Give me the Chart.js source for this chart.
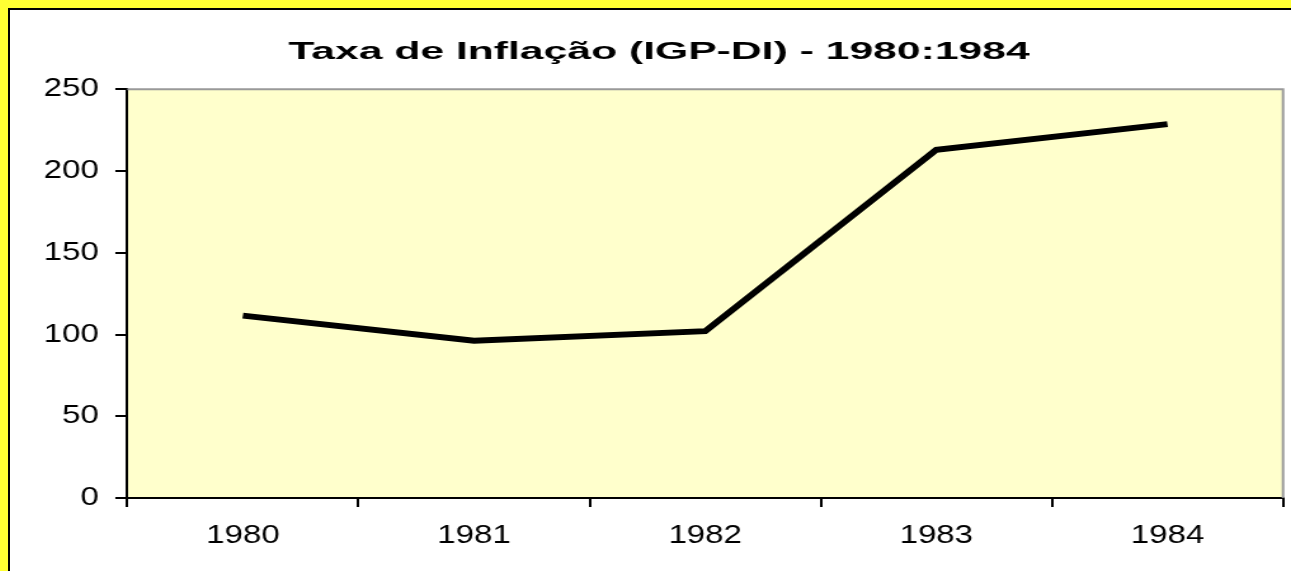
<!DOCTYPE html>
<html><head><meta charset="utf-8">
<script src="https://cdn.jsdelivr.net/npm/chart.js@4/dist/chart.umd.min.js"></script>
<style>
html,body{margin:0;padding:0;background:#FFFF33;width:1291px;height:571px;overflow:hidden;}
#frame{position:absolute;left:8px;top:8px;width:1300px;height:600px;border-left:2px solid #000;border-top:2px solid #000;background:#fff;}
#wrap{position:absolute;left:0;top:0;width:1009px;height:561px;transform:scaleX(1.2696);transform-origin:0 0;}
</style></head><body>
<div id="frame"><div id="wrap"><canvas id="c" width="1009" height="561"></canvas></div></div>
<script>
const categories = ['1980', '1981', '1982', '1983', '1984'];
const inflationValues = [111.5, 96.2, 102, 213, 228.7];
const yTicks = [0, 50, 100, 150, 200, 250];
const titleText = 'Taxa de Inflação (IGP-DI) - 1980:1984';

const FONT = "'Liberation Sans', Arial, sans-serif";
const TITLE_X = 511.2;
const TITLE_STRETCH = 1.4;

const plotDeco = {
  id: 'plotDeco',
  afterLayout(chart) {
    const tb = chart.titleBlock;
    if (!tb || tb._wrapped) return;
    const orig = tb.draw;
    tb.draw = function (...args) {
      const ctx = this.ctx;
      const c = (this.left + this.right) / 2;
      ctx.save();
      ctx.translate(TITLE_X, 0);
      ctx.scale(TITLE_STRETCH, 1);
      ctx.translate(-c, 0);
      orig.apply(this, args);
      ctx.restore();
    };
    tb._wrapped = true;
  },
  beforeDraw(chart) {
    const {ctx, chartArea: a} = chart;
    ctx.save();
    ctx.fillStyle = '#FFFFCC';
    ctx.fillRect(a.left, a.top, a.right - a.left, a.bottom - a.top);
    ctx.restore();
  },
  beforeDatasetsDraw(chart) {
    const {ctx, chartArea: a} = chart;
    ctx.save();
    ctx.strokeStyle = '#999999';
    ctx.lineWidth = 2;
    ctx.beginPath();
    ctx.moveTo(a.left, a.top);
    ctx.lineTo(a.right, a.top);
    ctx.lineTo(a.right, a.bottom);
    ctx.stroke();
    ctx.restore();
  }
};

new Chart(document.getElementById('c'), {
  type: 'line',
  data: {
    labels: categories,
    datasets: [{
      data: inflationValues,
      borderColor: '#000000',
      borderWidth: 5.8,
      pointRadius: 0,
      tension: 0,
      fill: false
    }]
  },
  options: {
    responsive: false,
    animation: false,
    devicePixelRatio: 1,
    layout: {padding: {left: 0, right: 6.3, top: 0, bottom: 0}},
    plugins: {
      legend: {display: false},
      tooltip: {enabled: false},
      title: {
        display: true,
        text: titleText,
        color: '#000',
        font: {family: FONT, size: 24, weight: 'bold', lineHeight: 1.2},
        padding: {top: 27.5, bottom: 23}
      }
    },
    scales: {
      x: {
        type: 'category',
        offset: true,
        grid: {offset: true, drawOnChartArea: false, drawTicks: true, tickLength: 9, color: '#000', lineWidth: 2},
        border: {color: '#000', width: 2},
        ticks: {color: '#000', font: {family: FONT, size: 26}, padding: 13, maxRotation: 0, autoSkip: false},
        afterFit(s) { s.height = 73; }
      },
      y: {
        min: 0, max: 250,
        grid: {drawOnChartArea: false, tickLength: 9.45, color: '#000', lineWidth: 2},
        border: {color: '#000', width: 2},
        ticks: {color: '#000', font: {family: FONT, size: 26}, padding: 13},
        afterBuildTicks(s) { s.ticks = yTicks.map(v => ({value: v})); },
        afterFit(s) { s.width = 92.4; }
      }
    }
  },
  plugins: [plotDeco]
});
</script>
</body></html>
